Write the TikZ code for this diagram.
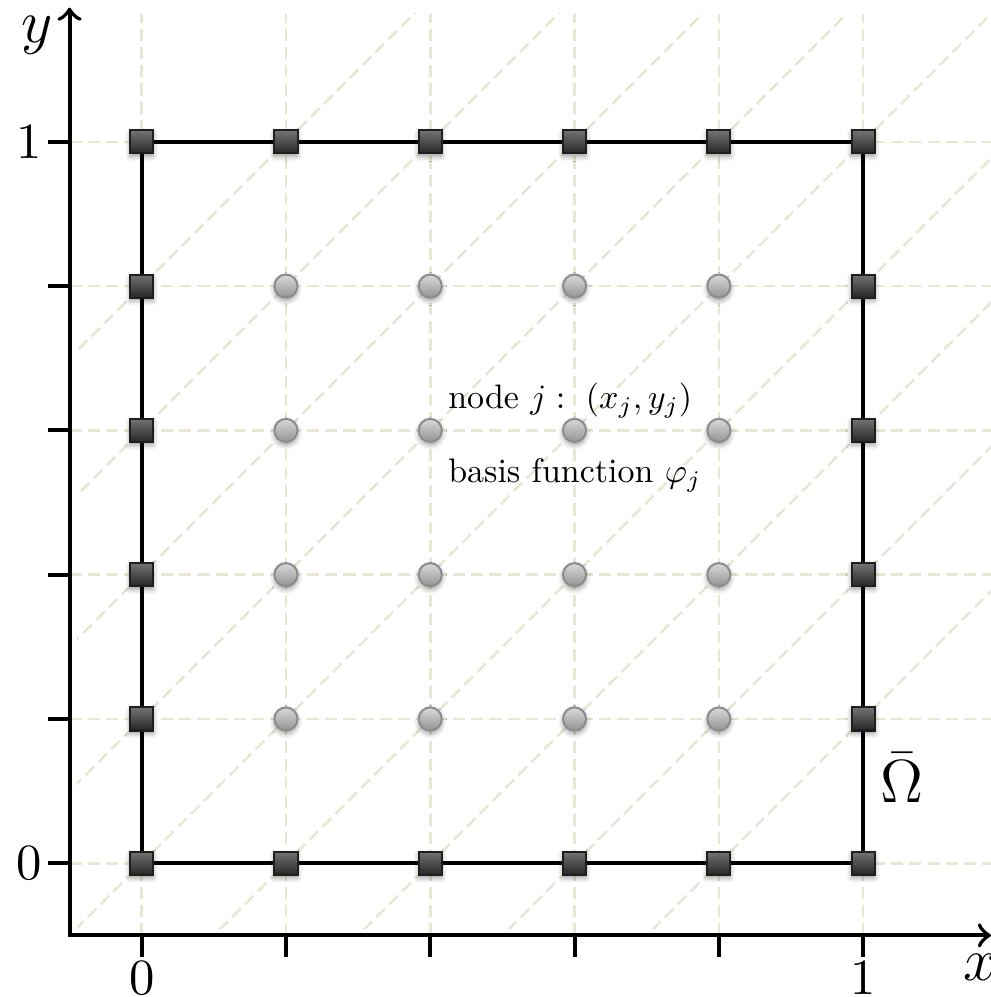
\documentclass[tikz,border=0pt]{standalone}
\usepackage{amsmath}
\usepackage{amssymb}
\usepackage{tikz}
\usetikzlibrary{shadows.blur,backgrounds}

\definecolor{gridbeige}{RGB}{234,230,212}

\begin{document}
\begin{tikzpicture}[x=1cm, y=1cm,
  bnode/.style={rectangle, draw=black!88, line width=0.4pt, top color=black!55, bottom color=black!85, minimum size=0.16cm, inner sep=0pt, blur shadow={shadow xshift=0pt, shadow yshift=-0.6pt, shadow blur radius=1pt, shadow opacity=40}},
  inode/.style={circle, draw=black!45, line width=0.4pt, top color=black!15, bottom color=black!42, minimum size=0.16cm, inner sep=0pt, blur shadow={shadow xshift=0pt, shadow yshift=-0.6pt, shadow blur radius=1pt, shadow opacity=40}},
  gridline/.style={gridbeige, line width=0.5pt, dash pattern=on 2.4pt off 1.2pt},
  axis/.style={line width=0.8pt},
  boundary/.style={line width=0.8pt},
  ticklabel/.style={inner sep=1pt},
  infotext/.style={anchor=base west, inner sep=0pt, scale=0.67, transform shape}]
\useasboundingbox (-0.982,-0.927) rectangle (5.886,5.983);

% mesh nodes on the boundary
\foreach \i in {0,...,5} {
  \node[bnode] (b-\i-0) at (\i,0) {};
  \node[bnode] (b-\i-5) at (\i,5) {};
}
\foreach \j in {1,...,4} {
  \node[bnode] (b-0-\j) at (0,\j) {};
  \node[bnode] (b-5-\j) at (5,\j) {};
}
% interior mesh nodes
\foreach \i in {1,...,4}
  \foreach \j in {1,...,4}
    \node[inode] (n-\i-\j) at (\i,\j) {};

% grid and triangulation
\begin{scope}[on background layer]
  \clip (-0.5,-0.5) rectangle (5.886,5.886);
  \foreach \i in {0,...,5} {
    \draw[gridline] (\i,-0.5) -- (\i,5.886);
    \draw[gridline] (-0.5,\i) -- (5.886,\i);
  }
\end{scope}
\begin{scope}[on background layer]
  \clip (-0.45,-0.45) rectangle (5.886,5.886);
  \foreach \k in {-4,...,4}
    \draw[gridline] ({\k-1},-1) -- ({\k+7},7);
\end{scope}
\begin{scope}[on background layer]
  \draw[boundary] (b-0-0.center) -- (b-5-0.center) -- (b-5-5.center) -- (b-0-5.center) -- cycle;
\end{scope}

% axes
\draw[axis,<->] (-0.5,5.93) |- (5.886,-0.5);
\foreach \i in {0,...,5} {
  \draw[axis] (\i,-0.5) -- (\i,-0.65);
  \draw[axis] (-0.5,\i) -- (-0.65,\i);
}
\node[ticklabel, anchor=north] (x0) at (0,-0.64) {$0$};
\node[ticklabel, anchor=north] (x1) at (5,-0.64) {$1$};
\node[ticklabel, anchor=east] (y0) at (-0.65,0) {$0$};
\node[ticklabel, anchor=east] (y1) at (-0.65,5) {$1$};
\node (xlab) at (5.81,-0.72) {\large $x$};
\node (ylab) at (-0.726,5.74) {\large $y$};
\node[inner sep=1pt] (omega) at (5.27,0.59) {\large $\bar{\Omega}$};

\node[infotext] (nodej) at (2.12,3.15) {node $j:\ (x_j,y_j)$};
\node[infotext] (basis) at (2.12,2.64) {basis function $\varphi_j$};
\end{tikzpicture}
\end{document}
